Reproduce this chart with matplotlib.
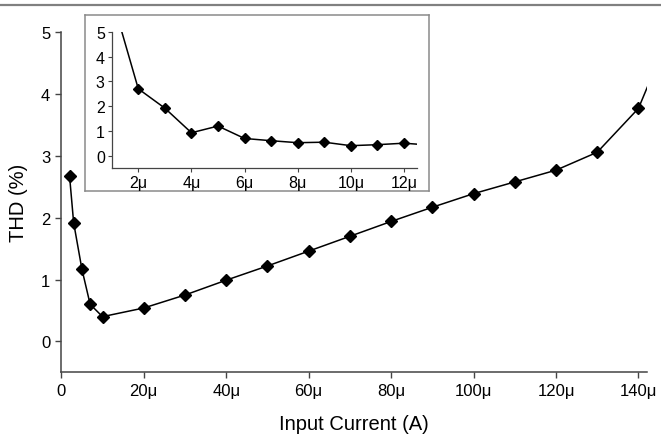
import matplotlib
matplotlib.use("Agg")
import matplotlib.pyplot as plt
from matplotlib.lines import Line2D
from matplotlib.ticker import FuncFormatter

plt.rcParams['font.family'] = ['Liberation Sans', 'DejaVu Sans']

# THD vs input current, full sweep
current_main = [2e-6, 3e-6, 5e-6, 7e-6, 10e-6, 20e-6, 30e-6, 40e-6, 50e-6, 60e-6,
                70e-6, 80e-6, 90e-6, 100e-6, 110e-6, 120e-6, 130e-6, 140e-6, 150e-6]
thd_main = [2.68, 1.92, 1.17, 0.60, 0.40, 0.54, 0.75, 0.99, 1.22, 1.46,
            1.70, 1.94, 2.17, 2.39, 2.58, 2.77, 3.06, 3.77, 5.37]

# low current detail
current_low = [1e-6, 2e-6, 3e-6, 4e-6, 5e-6, 6e-6, 7e-6, 8e-6, 9e-6, 10e-6,
               11e-6, 12e-6, 13e-6]
thd_low = [6.4, 2.70, 1.92, 0.93, 1.20, 0.70, 0.61, 0.53, 0.55, 0.41,
           0.45, 0.51, 0.43]

main_xticks = [0, 20e-6, 40e-6, 60e-6, 80e-6, 100e-6, 120e-6, 140e-6]
low_xticks = [2e-6, 4e-6, 6e-6, 8e-6, 10e-6, 12e-6]
yticks = [0, 1, 2, 3, 4, 5]

def micro(v, pos):
    if abs(v) < 1e-12:
        return "0"
    return f"{v * 1e6:g}\u03bc"

spine_col = '#444444'

fig = plt.figure(figsize=(6.61, 4.39), dpi=100)

# thin gray rule along the top edge
fig.add_artist(Line2D([0, 1], [0.986, 0.986], transform=fig.transFigure,
                      color='#808080', lw=1.6))

ax = fig.add_axes([0.0927, 0.1497, 0.8857, 0.7744])
ax.plot(current_main, thd_main, color='black', lw=1.1, marker='D', ms=6)
ax.set_xlim(0, 142e-6)
ax.set_ylim(-0.5, 5)
ax.set_xticks(main_xticks)
ax.set_yticks(yticks)
ax.xaxis.set_major_formatter(FuncFormatter(micro))
for s in ['top', 'right']:
    ax.spines[s].set_visible(False)
for s in ['left', 'bottom']:
    ax.spines[s].set_color(spine_col)
    ax.spines[s].set_linewidth(1.1)
ax.tick_params(direction='out', length=4, width=1, color=spine_col,
               labelsize=12, pad=4)
ax.set_xlabel('Input Current (A)', fontsize=14.5, labelpad=11)
ax.set_ylabel('THD (%)', fontsize=14.5, labelpad=9)

# inset frame
frame = fig.add_axes([0.1286, 0.5626, 0.5204, 0.4009])
frame.set_xticks([])
frame.set_yticks([])
frame.set_facecolor('white')
for s in frame.spines.values():
    s.set_color('#8a8a8a')
    s.set_linewidth(1.1)

ins = fig.add_axes([0.169, 0.6144, 0.4623, 0.3112])
ins.patch.set_alpha(0)
ins.plot(current_low, thd_low, color='black', lw=1.1, marker='D', ms=5)
ins.set_xlim(1e-6, 12.5e-6)
ins.set_ylim(-0.5, 5)
ins.set_xticks(low_xticks)
ins.set_yticks(yticks)
ins.xaxis.set_major_formatter(FuncFormatter(micro))
for s in ['top', 'right']:
    ins.spines[s].set_visible(False)
for s in ['left', 'bottom']:
    ins.spines[s].set_color(spine_col)
    ins.spines[s].set_linewidth(0.9)
ins.tick_params(direction='out', length=3, width=0.8, color=spine_col,
                labelsize=11.5, pad=2)

fig.savefig('out.png', dpi=100)
